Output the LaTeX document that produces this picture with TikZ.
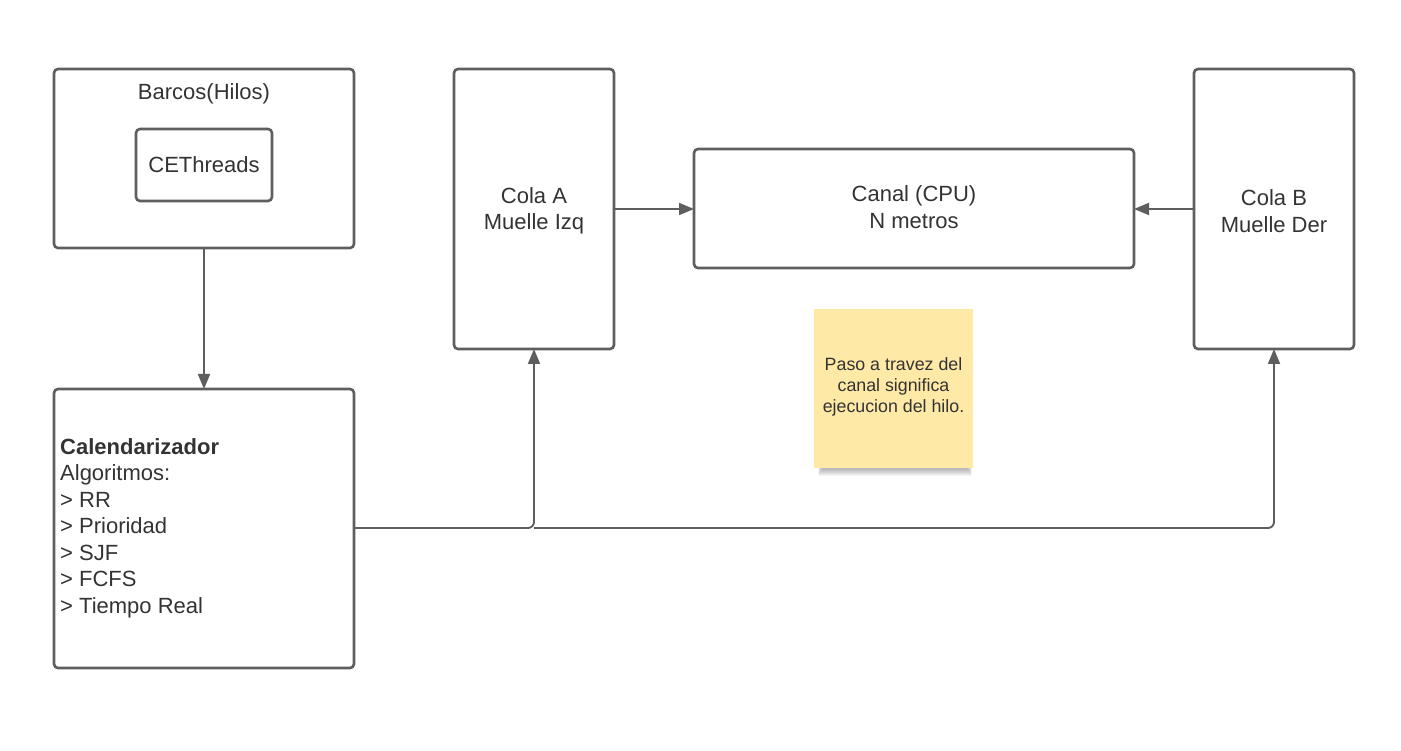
\documentclass[tikz,border=0pt]{standalone}
\usepackage{fontspec}
\setmainfont{Liberation Sans}
\usetikzlibrary{arrows.meta,positioning}
\definecolor{ln}{HTML}{5E5E5E}
\definecolor{tx}{HTML}{333333}
\definecolor{sticky}{HTML}{FFE9A6}
\begin{document}
\begin{tikzpicture}[x=1pt,y=-1pt,
  box/.style={draw=ln,line width=2.6pt,rounded corners=4pt,inner sep=0pt,outer sep=0pt,anchor=north west,text=tx},
  conn/.style={draw=ln,line width=1.9pt,-{Triangle[length=15pt,width=12pt]}},
  every node/.append style={font=\fontsize{22}{26.5}\selectfont,text=tx}]
\useasboundingbox (0,0) rectangle (1401,751);
% boxes
\node[box,minimum width=300pt,minimum height=179pt] (barcos) at (54,69) {};
\node[text=tx] (barcost) at (204,93.5) {Barcos(Hilos)};
\node[box,minimum width=136pt,minimum height=72pt,anchor=center] (ce) at (204,165) {CEThreads};
\node[box,minimum width=300pt,minimum height=279pt] (cal) at (54,389) {};
\node[anchor=west,align=left,inner sep=0pt] (calt) at (60,528) {\textbf{Calendarizador}\\Algoritmos:\\> RR\\> Prioridad\\> SJF\\> FCFS\\> Tiempo Real};
\node[box,minimum width=160pt,minimum height=280pt] (colaa) at (454,69) {};
\node[align=center] (colaat) at (534,211) {Cola A\\Muelle Izq};
\node[box,minimum width=440pt,minimum height=119pt] (canal) at (694,149) {};
\node[align=center] (canalt) at (914,207) {Canal (CPU)\\N metros};
\node[box,minimum width=160pt,minimum height=280pt] (colab) at (1194,69) {};
\node[align=center] (colabt) at (1274,211) {Cola B\\Muelle Der};
% sticky note with soft shadow
\foreach \i in {0,...,6}
  \fill[black,opacity=0.045] (818+\i*0.6,330) rectangle (972-\i*0.6,476-\i);
\node[fill=sticky,minimum width=159pt,minimum height=159pt,inner sep=0pt,outer sep=0pt,anchor=north west] (note) at (814,309) {};
\node[align=center,font=\fontsize{17.8}{21}\selectfont] (notet) at (893.5,387) {Paso a travez del\\canal significa\\ejecucion del hilo.};
% connectors
\draw[conn] (barcos.south) -- (cal.north);
\draw[conn] (colaa.east |- 0,209) -- (canal.west |- 0,209);
\draw[conn] (colab.west |- 0,209) -- (canal.east |- 0,209);
\coordinate (split) at (534,528);
\draw[conn,rounded corners=6pt] (cal.east |- split) -- (split) -- (colaa.south);
\draw[conn,rounded corners=6pt] (split) -- (colab.south |- split) -- (colab.south);
\end{tikzpicture}
\end{document}
